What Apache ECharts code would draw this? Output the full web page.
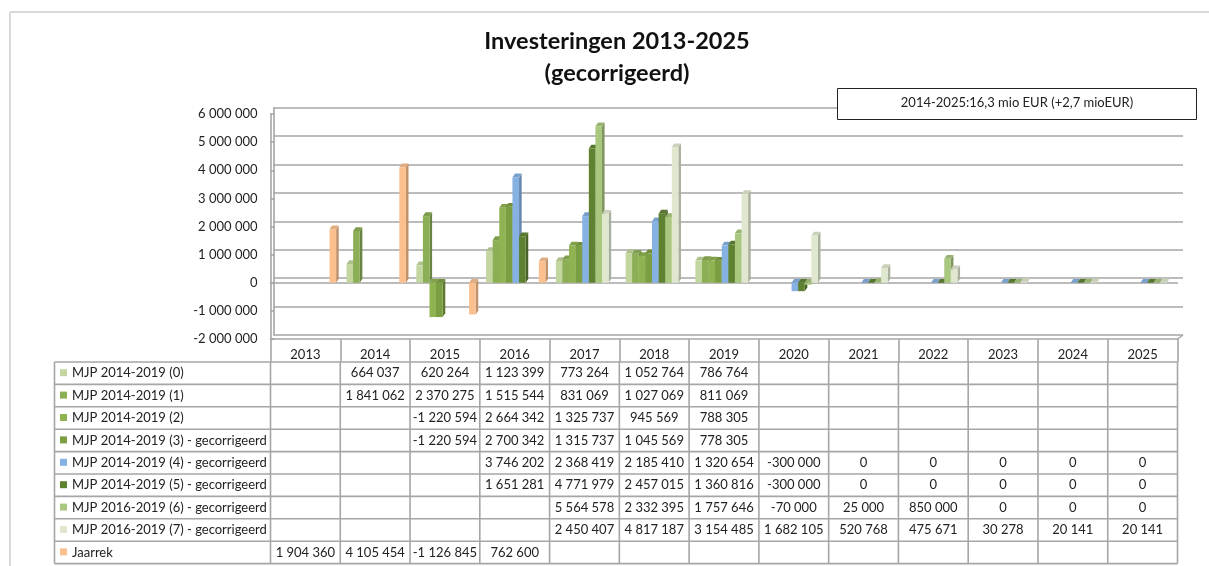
<!DOCTYPE html>
<html>
<head>
<meta charset="utf-8">
<title>Investeringen 2013-2025</title>
<script src="https://cdn.jsdelivr.net/npm/echarts@6/dist/echarts.min.js"></script>
<style>
  html, body { margin: 0; padding: 0; background: #fff; }
  #main { width: 1209px; height: 566px; }
</style>
</head>
<body>
<div id="main"></div>
<script>
var years = ['2013', '2014', '2015', '2016', '2017', '2018', '2019', '2020', '2021', '2022', '2023', '2024', '2025'];
var seriesNames = [
  'MJP 2014-2019 (0)',
  'MJP 2014-2019 (1)',
  'MJP 2014-2019 (2)',
  'MJP 2014-2019 (3) - gecorrigeerd',
  'MJP 2014-2019 (4) - gecorrigeerd',
  'MJP 2014-2019 (5) - gecorrigeerd',
  'MJP 2016-2019 (6) - gecorrigeerd',
  'MJP 2016-2019 (7) - gecorrigeerd',
  'Jaarrek'
];
var mjp0 = [null, 664037, 620264, 1123399, 773264, 1052764, 786764, null, null, null, null, null, null];
var mjp1 = [null, 1841062, 2370275, 1515544, 831069, 1027069, 811069, null, null, null, null, null, null];
var mjp2 = [null, null, -1220594, 2664342, 1325737, 945569, 788305, null, null, null, null, null, null];
var mjp3 = [null, null, -1220594, 2700342, 1315737, 1045569, 778305, null, null, null, null, null, null];
var mjp4 = [null, null, null, 3746202, 2368419, 2185410, 1320654, -300000, 0, 0, 0, 0, 0];
var mjp5 = [null, null, null, 1651281, 4771979, 2457015, 1360816, -300000, 0, 0, 0, 0, 0];
var mjp6 = [null, null, null, null, 5564578, 2332395, 1757646, -70000, 25000, 850000, 0, 0, 0];
var mjp7 = [null, null, null, null, 2450407, 4817187, 3154485, 1682105, 520768, 475671, 30278, 20141, 20141];
var jaarrek = [1904360, 4105454, -1126845, 762600, null, null, null, null, null, null, null, null, null];
var allSeries = [mjp0, mjp1, mjp2, mjp3, mjp4, mjp5, mjp6, mjp7, jaarrek];
var colors = ['#c3d6a0', '#8cae55', '#8fb350', '#7c9e42', '#86b1e3', '#5f8232', '#a9c77e', '#dfe8cf', '#fbc08e'];

var fontName = 'Lato';
var gridColor = '#a6a6a6';

// 表格位置
var tableLeft = 54.5, colLeft = 270.5, colRight = 1177.5;
var rowTop = 362, rowH = 22.4;
var colW = (colRight - colLeft) / years.length;

function fmt(v) {
  return String(v).replace(/\B(?=(\d{3})+(?!\d))/g, ' ');
}

// 颜色加深
function shade(hex, k) {
  var n = parseInt(hex.slice(1), 16);
  var r = Math.round((n >> 16 & 255) * k), g = Math.round((n >> 8 & 255) * k), b = Math.round((n & 255) * k);
  return 'rgb(' + r + ',' + g + ',' + b + ')';
}

function line(x1, y1, x2, y2, color, width) {
  return {
    type: 'line', silent: true,
    shape: { x1: x1, y1: y1, x2: x2, y2: y2 },
    style: { stroke: color, lineWidth: width }
  };
}

function label(x, y, text, align, size) {
  return {
    type: 'text', silent: true, x: x, y: y,
    style: { text: text, fill: '#222', font: size + 'px ' + fontName, textAlign: align, textVerticalAlign: 'middle' }
  };
}

// 表格 + 外框 + 说明框
function buildGraphics() {
  var out = [];
  out.push(line(10, 12, 1209, 12, '#d9d9d9', 2));
  out.push(line(10, 12, 10, 566, '#d9d9d9', 2));
  // 右下角地板斜线
  out.push(line(colRight, 339, colRight + 5.5, 335, gridColor, 1.5));

  var rows = seriesNames.length;
  for (var r = 0; r <= rows; r++) {
    var y = rowTop + r * rowH;
    out.push(line(tableLeft, y, colRight, y, gridColor, 1.6));
  }
  out.push(line(tableLeft, rowTop, tableLeft, rowTop + rows * rowH, gridColor, 1.6));
  for (var c = 0; c <= years.length; c++) {
    var x = colLeft + c * colW;
    out.push(line(x, rowTop, x, rowTop + rows * rowH, gridColor, 1.6));
  }
  seriesNames.forEach(function (name, i) {
    var cy = rowTop + (i + 0.5) * rowH;
    out.push({
      type: 'rect', silent: true,
      shape: { x: 60, y: cy - 4, width: 7, height: 7 },
      style: { fill: colors[i] }
    });
    out.push(label(72, cy, name, 'left', 13));
    allSeries[i].forEach(function (v, j) {
      if (v === null) return;
      out.push(label(colLeft + (j + 0.5) * colW, cy, fmt(v), 'center', 13));
    });
  });

  out.push({
    type: 'rect', silent: true, z: 10,
    shape: { x: 837.5, y: 88.5, width: 359, height: 31 },
    style: { fill: '#fff', stroke: '#222', lineWidth: 1 }
  });
  out.push(Object.assign(label(1017, 103, '2014-2025:16,3 mio EUR (+2,7 mioEUR)', 'center', 13), { z: 11 }));
  return out;
}

// 伪 3D 柱子
function renderBar(seriesIdx) {
  var color = colors[seriesIdx];
  var depthX = 2.6, depthY = 3.8;
  return function (params, api) {
    var cat = api.value(0), val = api.value(1);
    if (isNaN(val)) return;
    var band = api.size([1, 0])[0];
    var slot = band * 0.0945;
    var x0 = api.coord([cat, 0])[0] - band / 2 + band * 0.09 + seriesIdx * slot;
    var x1 = x0 + slot;
    var yZero = api.coord([cat, 0])[1];
    var yVal = api.coord([cat, val])[1];
    var top = Math.min(yZero, yVal), bot = Math.max(yZero, yVal);
    return {
      type: 'group',
      children: [
        {
          type: 'polygon',
          shape: { points: [[x1, top], [x1 + depthX, top - depthY], [x1 + depthX, bot - depthY], [x1, bot]] },
          style: { fill: shade(color, 0.76) }
        },
        {
          type: 'polygon',
          shape: { points: [[x0, top], [x0 + depthX, top - depthY], [x1 + depthX, top - depthY], [x1, top]] },
          style: { fill: shade(color, 0.9) }
        },
        {
          type: 'rect',
          shape: { x: x0, y: top, width: slot, height: bot - top },
          style: { fill: color }
        }
      ]
    };
  };
}

var chart = echarts.init(document.getElementById('main'), null, { renderer: 'canvas' });

var option = {
  animation: false,
  backgroundColor: '#fff',
  textStyle: { fontFamily: fontName },
  title: {
    text: 'Investeringen 2013-2025\n(gecorrigeerd)',
    left: 612,
    top: 20,
    textAlign: 'center',
    textStyle: { fontFamily: fontName, fontSize: 23.5, fontWeight: 'bold', color: '#111', lineHeight: 32 }
  },
  grid: [
    { left: colLeft, width: colRight - colLeft, top: 114, height: 225 },
    { left: 273.5, width: 909.5, top: 107.7, height: 227.3 }
  ],
  xAxis: [
    {
      type: 'category', gridIndex: 0, data: years,
      position: 'bottom',
      axisLine: { onZero: false, lineStyle: { color: gridColor, width: 1.6 } },
      axisTick: { show: true, length: 23, lineStyle: { color: gridColor, width: 1.6 } },
      axisLabel: { color: '#222', fontSize: 13, fontFamily: fontName, margin: 9 }
    },
    // 前面的 0 线
    {
      type: 'category', gridIndex: 0, data: years,
      axisLine: { onZero: true, lineStyle: { color: gridColor, width: 1.6 } },
      axisTick: { show: false }, axisLabel: { show: false }
    },
    { type: 'value', gridIndex: 1, min: 0, max: 13, show: false }
  ],
  yAxis: [
    {
      type: 'value', gridIndex: 0, min: -2000000, max: 6000000, interval: 1000000,
      axisLine: { show: true, lineStyle: { color: gridColor, width: 1.6 } },
      axisTick: { show: true, inside: true, length: 4, lineStyle: { color: gridColor, width: 1.6 } },
      splitLine: { show: false },
      axisLabel: {
        color: '#222', fontSize: 13, fontFamily: fontName, margin: 13,
        formatter: function (v) { return v < 0 ? '-' + fmt(-v) : fmt(v); }
      }
    },
    // 后墙网格
    {
      type: 'value', gridIndex: 1, min: -2000000, max: 6000000, interval: 1000000,
      axisLine: { show: true, lineStyle: { color: gridColor, width: 1.6 } },
      axisTick: { show: false }, axisLabel: { show: false },
      splitLine: { show: true, lineStyle: { color: gridColor, width: 1.6 } }
    }
  ],
  series: allSeries.map(function (values, i) {
    return {
      name: seriesNames[i],
      type: 'custom',
      xAxisIndex: 0,
      yAxisIndex: 0,
      clip: false,
      silent: true,
      z: 5,
      renderItem: renderBar(i),
      encode: { x: 0, y: 1 },
      data: values.map(function (v, j) { return [j, v === null ? NaN : v]; })
    };
  }),
  graphic: buildGraphics()
};

chart.setOption(option);
</script>
</body>
</html>
